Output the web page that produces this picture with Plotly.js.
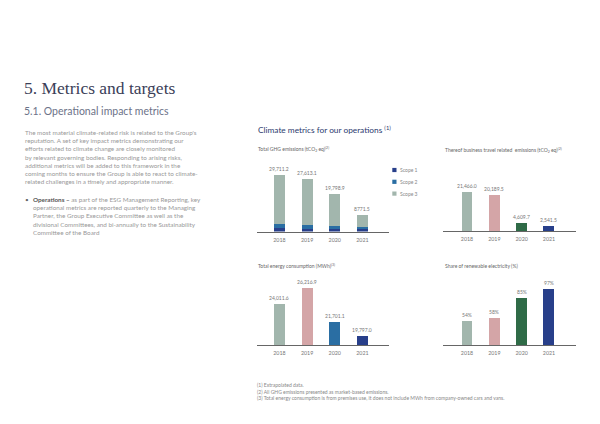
<!DOCTYPE html>
<html><head><meta charset="utf-8">
<script src="https://cdn.plot.ly/plotly-3.0.1.min.js"></script>
<style>html,body{margin:0;padding:0;background:#fff}#chart{width:600px;height:424px}</style>
</head><body><div id="chart"></div>
<script>
// ---- data ----
const years = ['2018', '2019', '2020', '2021'];
const scopeNames = ['Scope 1', 'Scope 2', 'Scope 3'];
const scope1 = [1700, 1500, 1400, 1300];
const scope2 = [2400, 1700, 1600, 1000];
const scope3 = [25611.2, 24413.1, 16798.9, 6471.5];
const ghgTotal = [29711.2, 27613.1, 19798.9, 8771.5];
const ghgLabels = ['29,711.2', '27,613.1', '19,798.9', '8771.5'];
const travel = [21466.0, 20189.5, 4609.7, 2541.5];
const travelLabels = ['21,466.0', '20,189.5', '4,609.7', '2,541.5'];
const energy = [24011.6, 26216.9, 21701.1, 19797.0];
const energyLabels = ['24,011.6', '26,216.9', '21,701.1', '19,797.0'];
const renewable = [54, 58, 85, 97];
const renewableLabels = ['54%', '58%', '85%', '97%'];

// ---- style ----
const C = {navy:'#283f8a', blue:'#2a6ea3', sage:'#a2b6ad', pink:'#d4a5a7', green:'#2f6b47'};
const scopeColors = [C.navy, C.blue, C.sage];
const H = 424, W = 600;
const px = v => v / W, py = v => 1 - v / H;
const sans = 'Lato, "Open Sans", sans-serif';
const txtGrey = '#999';

const bw = 0.4;
const traces = [
  {type:'bar', x:years, y:scope1, name:scopeNames[0], marker:{color:scopeColors[0]}, width:bw, xaxis:'x', yaxis:'y'},
  {type:'bar', x:years, y:scope2, name:scopeNames[1], marker:{color:scopeColors[1]}, width:bw, xaxis:'x', yaxis:'y'},
  {type:'bar', x:years, y:scope3, name:scopeNames[2], marker:{color:scopeColors[2]}, width:bw, xaxis:'x', yaxis:'y'},
  {type:'bar', x:years, y:travel, marker:{color:[C.sage, C.pink, C.green, C.navy]}, width:bw, xaxis:'x2', yaxis:'y2'},
  {type:'bar', x:years, y:energy, marker:{color:[C.sage, C.pink, C.blue, C.navy]}, width:bw, xaxis:'x3', yaxis:'y3'},
  {type:'bar', x:years, y:renewable, marker:{color:[C.sage, C.pink, C.green, C.navy]}, width:bw, xaxis:'x4', yaxis:'y4'}
];

function xa(domain, range){
  return {domain, range, type:'category', showline:true, linecolor:'#666', linewidth:1,
    showgrid:false, zeroline:false, ticks:'', tickfont:{family:sans, size:5.3, color:'#777'},
    ticklabelstandoff:3, fixedrange:true};
}
function ya(domain, range, anchor){
  return {domain, range, anchor, showline:false, showgrid:false, zeroline:false, showticklabels:false,
    ticks:'', tickmode:'array', tickvals:[], fixedrange:true};
}

const annotations = [];
function valueLabels(vals, labels, xr, yr){
  vals.forEach((v, i) => annotations.push({x:i, y:v, xref:xr, yref:yr, text:labels[i],
    showarrow:false, yanchor:'bottom', yshift:1, font:{family:sans, size:5, color:'#777'}}));
}
valueLabels(ghgTotal, ghgLabels, 'x', 'y');
valueLabels(travel, travelLabels, 'x2', 'y2');
valueLabels(energy, energyLabels, 'x3', 'y3');
valueLabels(renewable, renewableLabels, 'x4', 'y4');

function note(x, y, text, size, color, family){
  annotations.push({x:px(x), y:py(y), xref:'paper', yref:'paper', text, showarrow:false,
    xanchor:'left', yanchor:'middle', align:'left', font:{family:family || sans, size, color}});
}
// page text
note(22, 88, '5. Metrics and targets', 17.5, '#3b4058', '"Liberation Serif", serif');
note(22, 111, '5.1. Operational impact metrics', 10.5, '#6c7288');
note(23, 157, [
  "The most material climate-related risk is related to the Group's",
  "reputation. A set of key impact metrics demonstrating our",
  "efforts related to climate change are closely monitored",
  "by relevant governing bodies. Responding to arising risks,",
  "additional metrics will be added to this framework in the",
  "coming months to ensure the Group is able to react to climate-",
  "related challenges in a timely and appropriate manner."].join('<br>'), 6.3, txtGrey);
note(23, 199, '•', 6.5, '#666');
note(31, 215.5, [
  "<b><span style='color:#555'>Operations –</span></b> as part of the ESG Management Reporting, key",
  "operational metrics are reported quarterly to the Managing",
  "Partner, the Group Executive Committee as well as the",
  "divisional Committees, and bi-annually to the Sustainability",
  "Committee of the Board"].join('<br>'), 6.3, txtGrey);

// chart titles
note(256, 129, "Climate metrics for our operations <sup>(1)</sup>", 8.3, '#2b3a6e');
note(256, 149, "Total GHG emissions (tCO<sub>2</sub> eq)<sup>(2)</sup>", 5, '#666');
note(443, 150, "Thereof business travel related  emissions (tCO<sub>2</sub> eq)<sup>(2)</sup>", 5, '#666');
note(256, 265, "Total energy consumption (MWh)<sup>(3)</sup>", 5, '#666');
note(443, 266, "Share of renewable electricity (%)", 5, '#666');

// legend
const shapes = [];
scopeNames.forEach((n, i) => {
  const yc = 170 + i * 11.8;
  shapes.push({type:'rect', xref:'paper', yref:'paper', x0:px(392.3), x1:px(396.5), y0:py(yc - 2.1), y1:py(yc + 2.1),
    fillcolor:scopeColors[i], line:{width:0}});
  note(397.5, yc, n, 5, '#888');
});

// footnotes
note(255, 391.7, [
  "(1) Extrapolated data.",
  "(2) All GHG emissions presented as market-based emissions.",
  "(3) Total energy consumption is from premises use, it does not include MWh from company-owned cars and vans."].join('<br>'), 5, '#888');

const layout = {
  width:W, height:H, margin:{l:0, r:0, t:0, b:0}, paper_bgcolor:'#fff', plot_bgcolor:'rgba(0,0,0,0)',
  showlegend:false, barmode:'stack',
  xaxis: Object.assign(xa([px(257), px(389)], [-0.81, 3.96]), {anchor:'y'}),
  yaxis: ya([py(231.5), py(160)], [0, 37900], 'x'),
  xaxis2: Object.assign(xa([px(443), px(576)], [-0.878, 3.99]), {anchor:'y2'}),
  yaxis2: ya([py(231), py(160)], [0, 39400], 'x2'),
  xaxis3: Object.assign(xa([px(257), px(389)], [-0.81, 3.96]), {anchor:'y3'}),
  yaxis3: ya([py(345), py(280)], [18594, 27285], 'x3'),
  xaxis4: Object.assign(xa([px(443), px(576)], [-0.878, 3.99]), {anchor:'y4'}),
  yaxis4: ya([py(345), py(280)], [21.7, 109], 'x4'),
  annotations, shapes
};
Plotly.newPlot('chart', traces, layout, {displayModeBar:false, staticPlot:true});
</script></body></html>
